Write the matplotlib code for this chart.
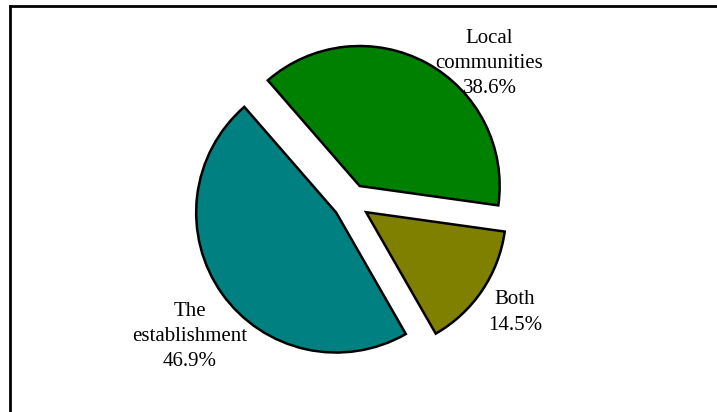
import matplotlib.pyplot as plt
from matplotlib.lines import Line2D

labels = ['Local\ncommunities', 'Both', 'The\nestablishment']
shares = [38.6, 14.5, 46.9]
colors = ['#008000', '#808000', '#008080']

# label centres in pie radius units (hand placed like the original)
label_pos = [(0.99, 0.99), (1.17, -0.79), (-1.15, -0.96)]

W, H, DPI = 717, 412, 100
fig = plt.figure(figsize=(W / DPI, H / DPI), dpi=DPI)
ax = fig.add_axes([0, 0, 1, 1])

ax.pie(shares, colors=colors, startangle=131, counterclock=False,
       explode=[0.13, 0.13, 0.13],
       wedgeprops={'edgecolor': 'black', 'linewidth': 1.8})

# pie centre at pixel (351, 202), radius 140 px
cx, cy, r = 351, 202, 140
ax.set_aspect('auto')
ax.set_xlim(-cx / r, (W - cx) / r)
ax.set_ylim((cy - H) / r, cy / r)
ax.axis('off')

for lab, val, (x, y) in zip(labels, shares, label_pos):
    ax.text(x, y, f'{lab}\n{val:.1f}%', ha='center', va='center',
            fontsize=15, family='Liberation Serif', linespacing=1.45)

# frame lines along top and left, as in the cropped original
fig.add_artist(Line2D([10 / W, 1], [1 - 6 / H, 1 - 6 / H], color='black',
                      linewidth=2, transform=fig.transFigure))
fig.add_artist(Line2D([10 / W, 10 / W], [0, 1 - 6 / H], color='black',
                      linewidth=2, transform=fig.transFigure))

fig.savefig('out.png', dpi=DPI)
